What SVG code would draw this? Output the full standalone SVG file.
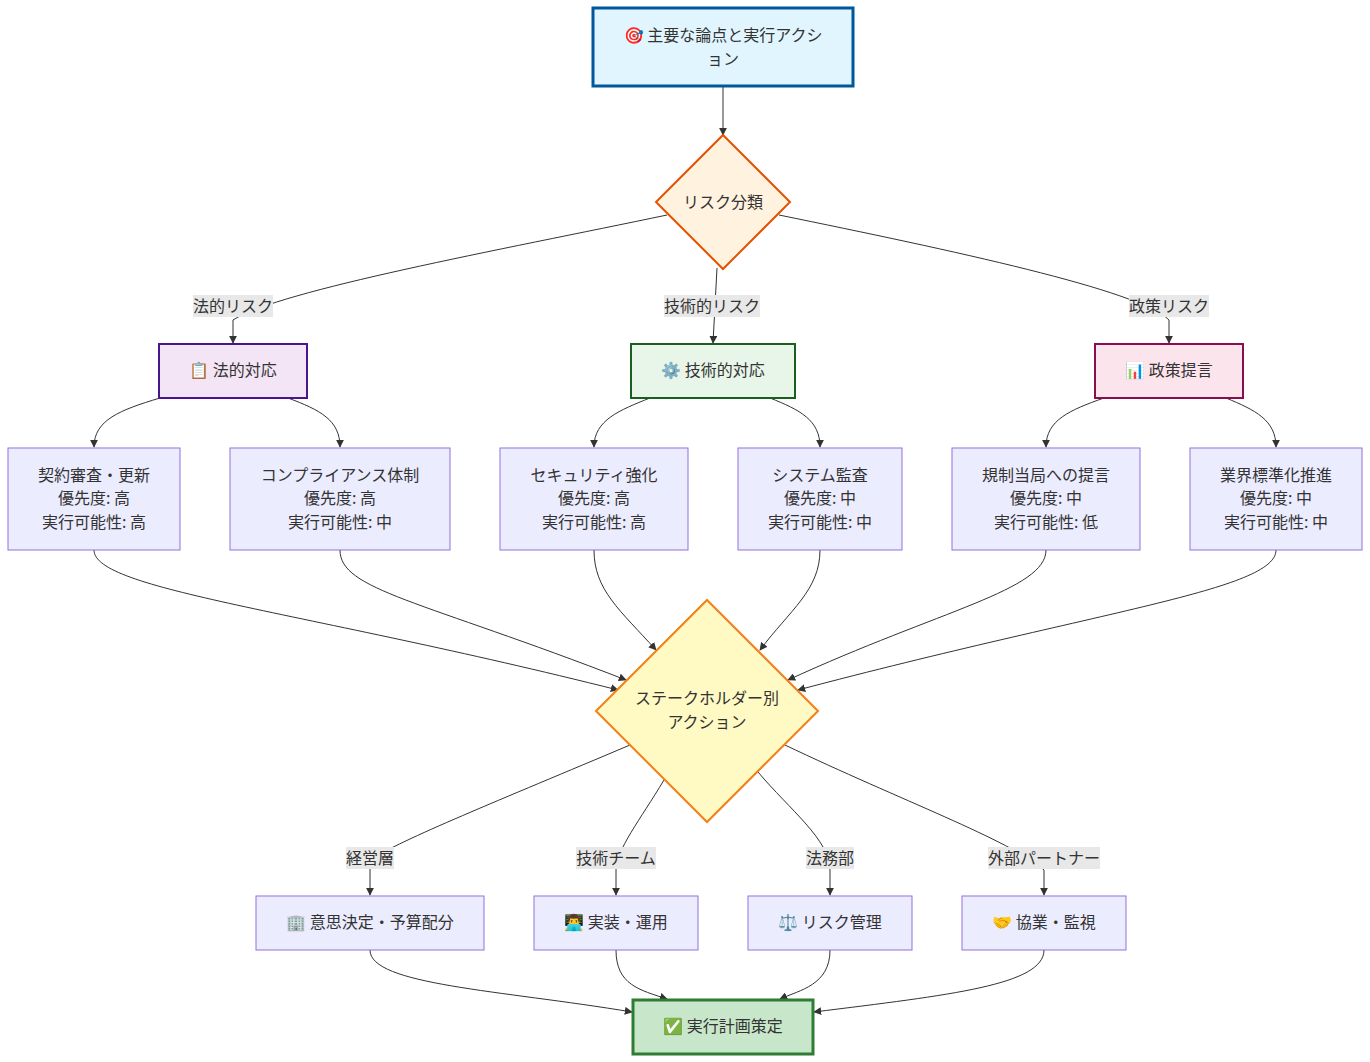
<svg xmlns="http://www.w3.org/2000/svg" width="1370" height="1062" viewBox="0 0 1370 1062">
<defs>
<marker id="ah" viewBox="0 0 10 10" refX="9" refY="5" markerWidth="8" markerHeight="8" orient="auto"><path d="M0,0L10,5L0,10z" fill="#333"/></marker>
<style>
text{font-family:"Noto Sans CJK JP","Liberation Sans",sans-serif;font-size:16px;fill:#333;text-anchor:middle}
.n{fill:#ececff;stroke:#9370db;stroke-width:1}
.e{fill:none;stroke:#333;stroke-width:1;marker-end:url(#ah)}
.lb{fill:#e8e8e8}
</style>
</defs>
<rect width="1370" height="1062" fill="#fff"/>
<g id="edges">
<path class="e" d="M723,86V135"/>
<path class="e" d="M667,215C500,250 280,290 233,320V343"/>
<path class="e" d="M717,268L713,343"/>
<path class="e" d="M779,215C950,250 1140,290 1169,320V343"/>
<path class="e" d="M160,398C120,410 94,420 94,447"/>
<path class="e" d="M288,398C320,410 340,420 340,447"/>
<path class="e" d="M650,398C620,410 594,420 594,447"/>
<path class="e" d="M770,398C800,410 820,420 820,447"/>
<path class="e" d="M1104,398C1070,410 1046,420 1046,447"/>
<path class="e" d="M1226,398C1255,410 1276,420 1276,447"/>
<path class="e" d="M94,550C94,590 300,610 618,690"/>
<path class="e" d="M340,550C340,590 420,600 626,680"/>
<path class="e" d="M594,550C594,590 620,610 656,650"/>
<path class="e" d="M820,550C820,590 790,610 760,650"/>
<path class="e" d="M1046,550C1046,590 940,610 788,680"/>
<path class="e" d="M1276,550C1276,590 1100,610 798,690"/>
<path class="e" d="M630,745C500,800 400,840 370,860V895"/>
<path class="e" d="M664,780C640,820 616,850 616,870V895"/>
<path class="e" d="M758,772C790,810 830,840 830,870V895"/>
<path class="e" d="M785,745C900,800 1010,840 1044,870V895"/>
<path class="e" d="M370,950C370,985 500,990 632,1012"/>
<path class="e" d="M616,950C616,985 640,990 667,999"/>
<path class="e" d="M830,950C830,985 800,990 780,999"/>
<path class="e" d="M1044,950C1044,985 950,995 814,1012"/>
<rect class="lb" x="193" y="295" width="80" height="22"/><text x="233" y="312">法的リスク</text>
<rect class="lb" x="664" y="295" width="96" height="22"/><text x="712" y="312">技術的リスク</text>
<rect class="lb" x="1129" y="295" width="80" height="22"/><text x="1169" y="312">政策リスク</text>
<rect class="lb" x="346" y="847" width="48" height="22"/><text x="370" y="864">経営層</text>
<rect class="lb" x="576" y="847" width="80" height="22"/><text x="616" y="864">技術チーム</text>
<rect class="lb" x="806" y="847" width="48" height="22"/><text x="830" y="864">法務部</text>
<rect class="lb" x="988" y="847" width="112" height="22"/><text x="1044" y="864">外部パートナー</text>
</g>
<g id="top"><rect x="593" y="8" width="260" height="78" fill="#e1f5fe" stroke="#01579b" stroke-width="3"/><text x="723" y="41">🎯 主要な論点と実行アクシ</text><text x="723" y="65">ョン</text></g>
<g id="risk"><path d="M723,135L790,202L723,269L656,202Z" fill="#fff3e0" stroke="#e65100" stroke-width="2"/><text x="723" y="208">リスク分類</text></g>
<g id="legal"><rect x="159" y="344" width="148" height="54" fill="#f3e5f5" stroke="#4a148c" stroke-width="2"/><text x="233" y="376">📋 法的対応</text></g>
<g id="tech"><rect x="631" y="344" width="164" height="54" fill="#e8f5e9" stroke="#1b5e20" stroke-width="2"/><text x="713" y="376">⚙️ 技術的対応</text></g>
<g id="policy"><rect x="1095" y="344" width="148" height="54" fill="#fce4ec" stroke="#880e4f" stroke-width="2"/><text x="1169" y="376">📊 政策提言</text></g>
<g id="a1"><rect class="n" x="8" y="448" width="172" height="102"/><text x="94" y="481">契約審査・更新</text><text x="94" y="504">優先度: 高</text><text x="94" y="528">実行可能性: 高</text></g>
<g id="a2"><rect class="n" x="230" y="448" width="220" height="102"/><text x="340" y="481">コンプライアンス体制</text><text x="340" y="504">優先度: 高</text><text x="340" y="528">実行可能性: 中</text></g>
<g id="a3"><rect class="n" x="500" y="448" width="188" height="102"/><text x="594" y="481">セキュリティ強化</text><text x="594" y="504">優先度: 高</text><text x="594" y="528">実行可能性: 高</text></g>
<g id="a4"><rect class="n" x="738" y="448" width="164" height="102"/><text x="820" y="481">システム監査</text><text x="820" y="504">優先度: 中</text><text x="820" y="528">実行可能性: 中</text></g>
<g id="a5"><rect class="n" x="952" y="448" width="188" height="102"/><text x="1046" y="481">規制当局への提言</text><text x="1046" y="504">優先度: 中</text><text x="1046" y="528">実行可能性: 低</text></g>
<g id="a6"><rect class="n" x="1190" y="448" width="172" height="102"/><text x="1276" y="481">業界標準化推進</text><text x="1276" y="504">優先度: 中</text><text x="1276" y="528">実行可能性: 中</text></g>
<g id="stake"><path d="M707,600L818,711L707,822L596,711Z" fill="#fff9c4" stroke="#f57f17" stroke-width="2"/><text x="707" y="704">ステークホルダー別</text><text x="707" y="728">アクション</text></g>
<g id="b1"><rect class="n" x="256" y="896" width="228" height="54"/><text x="370" y="928">🏢 意思決定・予算配分</text></g>
<g id="b2"><rect class="n" x="534" y="896" width="164" height="54"/><text x="616" y="928">👨‍💻 実装・運用</text></g>
<g id="b3"><rect class="n" x="748" y="896" width="164" height="54"/><text x="830" y="928">⚖️ リスク管理</text></g>
<g id="b4"><rect class="n" x="962" y="896" width="164" height="54"/><text x="1044" y="928">🤝 協業・監視</text></g>
<g id="final"><rect x="633" y="1000" width="180" height="54" fill="#c8e6c9" stroke="#2e7d32" stroke-width="3"/><text x="723" y="1032">✅ 実行計画策定</text></g>
</svg>
